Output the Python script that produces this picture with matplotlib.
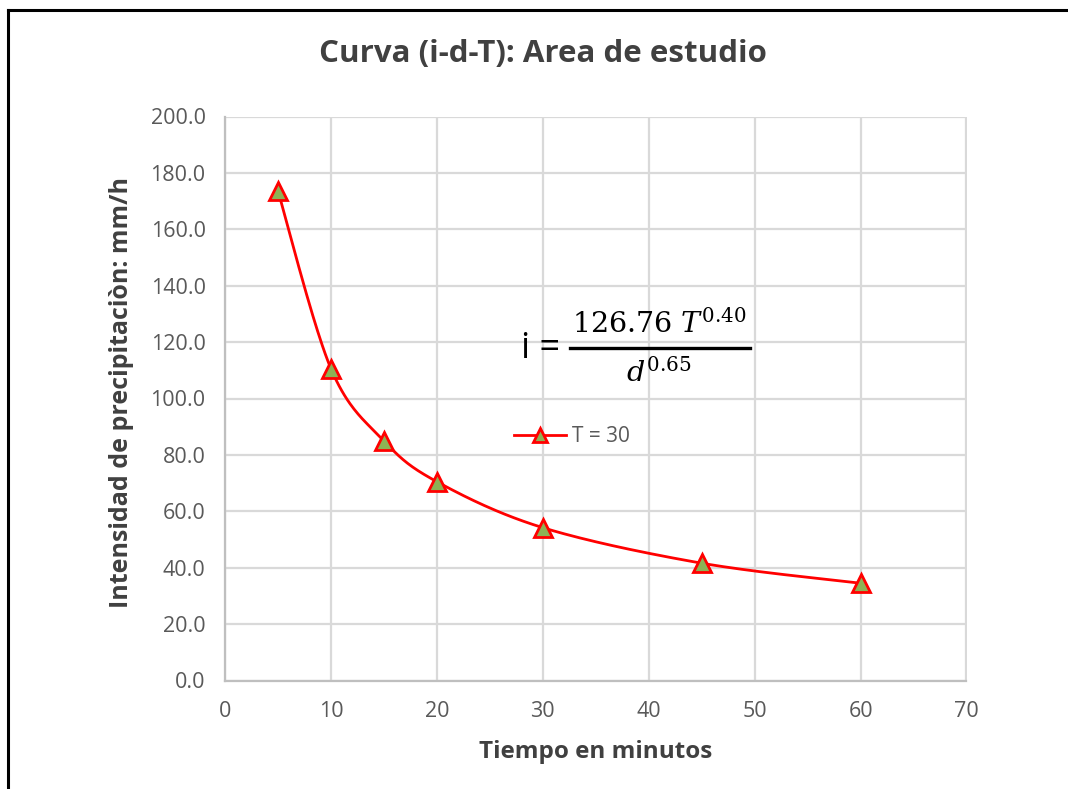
import numpy as np
import matplotlib
matplotlib.use("Agg")
import matplotlib.pyplot as plt
from matplotlib.lines import Line2D

# Duration (min) and rainfall intensity (mm/h) for return period T = 30
duration_min = [5, 10, 15, 20, 30, 45, 60]
intensity_mmh = [173.6, 110.6, 85.0, 70.5, 54.2, 41.6, 34.5]
series_label = "T = 30"

x_ticks = [0, 10, 20, 30, 40, 50, 60, 70]
y_ticks = [0, 20, 40, 60, 80, 100, 120, 140, 160, 180, 200]

TEXT = "#595959"
TITLE = "#404040"
GRID = "#D9D9D9"
RED = "#FF0000"
GREEN = "#8DB255"

plt.rcParams["font.family"] = ["Open Sans", "DejaVu Sans"]
plt.rcParams["mathtext.fontset"] = "dejavuserif"

W, H = 1068, 789


def fx(px):
    return px / W


def fy(py):
    return 1 - py / H


def smooth_curve(xs, ys, n=40):
    """Bezier smoothing through every point (Catmull-Rom style, 1/6 tension)."""
    p = np.column_stack([xs, ys]).astype(float)
    ext = np.vstack([p[0], p, p[-1]])
    out = []
    t = np.linspace(0, 1, n)[:, None]
    for i in range(len(p) - 1):
        p0, p1, p2, p3 = ext[i], ext[i + 1], ext[i + 2], ext[i + 3]
        c1 = p1 + (p2 - p0) / 6.0
        c2 = p2 - (p3 - p1) / 6.0
        seg = ((1 - t) ** 3) * p1 + 3 * ((1 - t) ** 2) * t * c1 + 3 * (1 - t) * t ** 2 * c2 + t ** 3 * p2
        out.append(seg if i == 0 else seg[1:])
    out = np.vstack(out)
    return out[:, 0], out[:, 1]


fig = plt.figure(figsize=(W / 100, H / 100), dpi=100)
ax = fig.add_axes([fx(225), fy(680.5), (966.5 - 225) / W, (680.5 - 116.5) / H])

sx, sy = smooth_curve(duration_min, intensity_mmh)
ax.plot(sx, sy, color=RED, lw=2, zorder=3, solid_capstyle="round")
ax.plot(duration_min, intensity_mmh, ls="none", marker="^", ms=13,
        mfc=GREEN, mec=RED, mew=2, zorder=4)

ax.set_xlim(0, 70)
ax.set_ylim(0, 200)
ax.set_xticks(x_ticks)
ax.set_yticks(y_ticks)
ax.set_yticklabels([f"{v:.1f}" for v in y_ticks])
ax.tick_params(axis="both", length=0, labelsize=15.5, labelcolor=TEXT)
ax.tick_params(axis="y", pad=14)
ax.tick_params(axis="x", pad=15)
ax.grid(True, color=GRID, lw=1.6)
ax.set_axisbelow(True)
for side in ("top", "right"):
    ax.spines[side].set_visible(False)
for side in ("left", "bottom"):
    ax.spines[side].set_color("#BFBFBF")
    ax.spines[side].set_linewidth(1.6)

fig.text(fx(543), fy(54), "Curva (i-d-T): Area de estudio", ha="center", va="center",
         fontsize=22.5, fontweight="bold", color=TITLE)
fig.text(fx(122), fy(393), "Intensidad de precipitaciòn: mm/h", ha="center", va="center",
         rotation=90, fontsize=18, fontweight="bold", color=TITLE)
fig.text(fx(596), fy(752), "Tiempo en minutos", ha="center", va="center",
         fontsize=17.5, fontweight="bold", color=TITLE)

# IDF equation
fig.text(fx(541), fy(349), "i =", ha="center", va="center", fontsize=26, color="black")
fig.text(fx(659), fy(325), r"$126.76\ T^{0.40}$", ha="center", va="center",
         fontsize=20.5, color="black")
fig.add_artist(Line2D([fx(570), fx(750)], [fy(348)] * 2, transform=fig.transFigure,
                      color="black", lw=2.4))
fig.text(fx(659), fy(374), r"$d^{0.65}$", ha="center", va="center",
         fontsize=20.5, color="black")

# Legend
handle = Line2D([], [], color=RED, lw=2, marker="^", ms=10, mfc=GREEN, mec=RED, mew=2)
ax.legend([handle], [series_label], loc="center left", bbox_to_anchor=(fx(514), fy(437)),
          bbox_transform=fig.transFigure, frameon=False, fontsize=15, handlelength=2.5,
          handletextpad=0.3, labelcolor=TEXT, borderaxespad=0, borderpad=0)

# Outer frame along the top and left edges
fig.add_artist(Line2D([fx(8), 1.0], [fy(10)] * 2, transform=fig.transFigure,
                      color="black", lw=2.2))
fig.add_artist(Line2D([fx(8)] * 2, [0.0, fy(10)], transform=fig.transFigure,
                      color="black", lw=2.2))

fig.savefig("out.png", dpi=100, facecolor="white")
